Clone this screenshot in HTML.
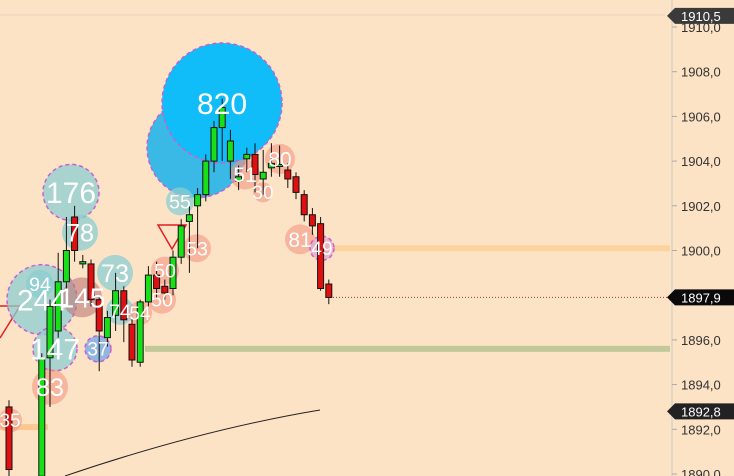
<!DOCTYPE html>
<html><head><meta charset="utf-8"><style>
html,body{margin:0;padding:0;background:#fde3c6;width:734px;height:476px;overflow:hidden;}
svg{display:block;font-family:"Liberation Sans",sans-serif;}
</style></head><body>
<svg width="734" height="476" viewBox="0 0 734 476">
<rect width="734" height="476" fill="#fde3c6"/>
<line x1="0" y1="15" x2="665" y2="15" stroke="#e8d2c0" stroke-width="1"/>
<g id="levels"></g>
<g id="bubblesBack"></g>
<g id="candles"></g>
<g id="labels"></g>
<g id="axis"></g>
</svg>
<script>
const ticks=[1910,1908,1906,1904,1902,1900,1896,1894,1892,1890];
const tickLabels=["1910,0","1908,0","1906,0","1904,0","1902,0","1900,0","1896,0","1894,0","1892,0","1890,0"];
const slots=[0,4,5,6,7,8,9,10,11,12,13,14,15,16,17,18,19,20,21,22,23,24,25,26,27,28,29,30,31,32,33,34,35,36,37,38,39];
const opens=[1893.0,1889.9,1895.2,1896.4,1898.6,1901.5,1899.4,1899.4,1897.8,1896.1,1897.1,1898.2,1896.7,1895.0,1897.7,1898.9,1898.4,1898.3,1899.7,1901.3,1902.0,1902.5,1904.0,1905.5,1904.0,1903.1,1904.1,1904.3,1903.2,1903.7,1903.8,1903.6,1903.3,1902.5,1901.6,1901.2,1898.5];
const closes=[1890.2,1895.2,1897.5,1898.6,1900.0,1900.0,1899.5,1897.8,1896.4,1897.0,1898.2,1896.9,1895.1,1897.7,1898.9,1898.3,1898.1,1899.7,1901.1,1901.6,1902.5,1904.0,1905.5,1906.4,1904.9,1903.3,1904.3,1903.4,1903.5,1903.9,1903.85,1903.2,1902.6,1901.6,1901.1,1898.3,1897.9];
const highs=[1893.3,1895.4,1897.8,1899.9,1901.5,1902.0,1899.8,1899.6,1898.0,1897.3,1899.0,1898.4,1897.0,1897.8,1899.3,1899.5,1898.7,1900.0,1901.4,1902.0,1902.8,1904.3,1905.8,1906.8,1905.4,1903.8,1904.6,1904.8,1904.5,1904.8,1904.7,1903.9,1903.5,1902.7,1901.9,1901.5,1898.7];
const lows=[1889.0,1889.0,1893.0,1896.1,1898.3,1899.5,1899.2,1897.5,1894.6,1895.7,1896.4,1895.9,1894.8,1894.8,1897.5,1897.9,1897.8,1898.0,1899.4,1899.0,1900.1,1902.2,1903.5,1904.0,1903.2,1902.7,1903.5,1902.6,1902.5,1903.3,1903.3,1902.8,1902.3,1901.3,1900.7,1898.2,1897.6];
const bubbleX=[222,197,71,42,55,115,80,50,300,280,322,98,197,165,162,82,140,263,245,10,180,120,40];
const bubbleP=[1906.6,1904.6,1902.6,1897.8,1895.6,1899.0,1900.8,1893.9,1900.5,1904.1,1900.1,1895.6,1900.1,1899.1,1897.8,1897.9,1897.2,1902.6,1903.4,1892.4,1902.2,1897.3,1898.5];
const bubbleR=[60,50,28,35,22,18,18,18,15,15,12,13,14,14,14,20,12,10,15,12,14,14,14];
const bubbleLabels=["820","","176","244","147","73","78","83","81","80","49","37","53","50","50","145","54","30","51","35","55","74","94"];
const bubbleKind=["blue","blue2","teal","teal","teal","teal","teal","salmon","salmon","salmon","pink","purple","salmon","salmon","salmon","mauve","salmon","salmon","salmon","salmon","teal","teal","teal"];
const NS="http://www.w3.org/2000/svg";
const y=p=>27+(1910-p)*22.35;
const xc=k=>9+k*8.2;
function mk(tag,attrs,parent){const e=document.createElementNS(NS,tag);for(const k in attrs)e.setAttribute(k,attrs[k]);parent.appendChild(e);return e;}
const L=document.getElementById('levels'),B=document.getElementById('bubblesBack'),C=document.getElementById('candles'),T=document.getElementById('labels'),A=document.getElementById('axis');
let e;
e=mk('rect',{x:322,y:y(1900.1)-3,width:348,height:6,fill:'#fcd39c'},L);


e=mk('rect',{x:145,y:y(1895.6)-3,width:525,height:6,fill:'#c2c89a'},L);


e=mk('rect',{x:0,y:y(1892.1)-3,width:48,height:6,fill:'#fcc890'},L);


e=mk('line',{x1:330,y1:y(1897.9),x2:668,y2:y(1897.9),stroke:'#a33','stroke-dasharray':'1,2','stroke-width':1},L);


e=mk('path',{d:'M65 476 Q200 430 320 410',fill:'none',stroke:'#222','stroke-width':1},L);


e=mk('path',{d:'M158 225 L186 225 L172 249 Z',fill:'none',stroke:'#e02020','stroke-width':1.5},L);


e=mk('path',{d:'M0 306 L20 306 L0 338',fill:'none',stroke:'#e02020','stroke-width':1.5},L);


const fills={blue:'#10bdf8',blue2:'#3bb9e6',teal:'rgba(140,205,210,0.75)',salmon:'rgba(245,150,130,0.6)',pink:'rgba(230,170,200,0.8)',purple:'rgba(120,170,230,0.8)',mauve:'rgba(190,120,120,0.6)'};
const order=[1,0,2,3,4,5,6,20,21,22,7,8,9,10,11,12,13,14,15,16,17,18,19];
order.forEach(i=>{
  const dashed=(['blue','blue2','teal'].includes(bubbleKind[i])&&bubbleR[i]>20)||bubbleKind[i]=='purple'||bubbleKind[i]=='pink';
  const c=mk('circle',{cx:bubbleX[i],cy:y(bubbleP[i]),r:bubbleR[i],fill:fills[bubbleKind[i]],stroke:dashed?'#c860d0':'none','stroke-width':1.5,'stroke-dasharray':'4,3'},B);
  
  
});
opens.forEach((o,i)=>{
  const cl=closes[i],x=xc(slots[i]),up=cl>=o;
  const w=mk('line',{x1:x,x2:x,y1:y(highs[i]),y2:y(lows[i]),stroke:'#111','stroke-width':1},C);
  
  
  const top=y(Math.max(o,cl)),h=Math.max(2,Math.abs(y(o)-y(cl)));
  const r=mk('rect',{x:x-3,y:top,width:6,height:h,fill:up?'#18e018':'#e01010',stroke:'#111','stroke-width':1},C);
  
  
});
order.forEach(i=>{
  if(!bubbleLabels[i])return;
  const fs=Math.max(19,Math.min(30,bubbleR[i]*1.4));
  const t=mk('text',{x:bubbleX[i],y:y(bubbleP[i])+fs*0.36,'font-size':fs,fill:'#fff','text-anchor':'middle'},T);
  t.textContent=bubbleLabels[i];
  
  
});
e=mk('line',{x1:672,x2:672,y1:0,y2:476,stroke:'#c8c8c8','stroke-width':1},A);


ticks.forEach((p,i)=>{
  const yy=y(p);
  e=mk('line',{x1:672,x2:677,y1:yy,y2:yy,stroke:'#aaa'},A);
  
  
  const t=mk('text',{x:681,y:yy+5,'font-size':13,fill:'#333'},A);
  t.textContent=tickLabels[i];
  
  
});
const tags=[[1910.5,'1910,5','#3a3a3a'],[1897.9,'1897,9','#0a0a0a'],[1892.8,'1892,8','#222']];
tags.forEach(([p,l,c])=>{
  const yy=y(p);
  const g=mk('g',{},A);
  
  
  mk('path',{d:`M667 ${yy} L675 ${yy-8} L734 ${yy-8} L734 ${yy+8} L675 ${yy+8} Z`,fill:c},g);
  const t=mk('text',{x:681,y:yy+5,'font-size':13,fill:'#fff'},g);
  t.textContent=l;
});
</script>
</body></html>
